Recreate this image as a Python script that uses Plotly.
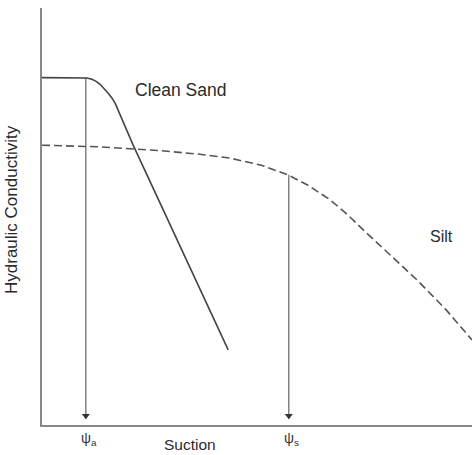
import plotly.graph_objects as go

# Curve data (arbitrary units: suction on x, hydraulic conductivity on y)
sand_x = [0, 0.95, 1.05, 1.16, 1.26, 1.35, 1.44, 1.53, 1.62, 1.70, 2.12, 4.33]
sand_y = [8.33, 8.33, 8.32, 8.29, 8.24, 8.17, 8.08, 7.97, 7.85, 7.72, 6.71, 1.80]
silt_x = [0, 1.35, 2.74, 3.6, 4.37, 5.1, 5.72, 6.2, 6.70, 7.10, 7.47, 8.10, 8.72, 9.40, 10.0]
silt_y = [6.71, 6.67, 6.58, 6.50, 6.40, 6.23, 6.00, 5.74, 5.40, 5.05, 4.68, 4.07, 3.48, 2.76, 2.04]

psi_x = [1.02, 5.74]
psi_top = [8.33, 6.00]
psi_labels = ["ψ<sub>a</sub>", "ψ<sub>s</sub>"]

fig = go.Figure()
fig.add_trace(go.Scatter(x=sand_x, y=sand_y, mode="lines",
                         line=dict(color="#444", width=1.6),
                         showlegend=False, hoverinfo="skip"))
fig.add_trace(go.Scatter(x=silt_x, y=silt_y, mode="lines",
                         line=dict(color="#555", width=1.6, dash="8px,4px"),
                         showlegend=False, hoverinfo="skip"))

# Vertical arrows from each curve down to the suction axis
for x, top in zip(psi_x, psi_top):
    fig.add_trace(go.Scatter(x=[x, x], y=[top, 0.15], mode="lines",
                             line=dict(color="#555", width=1.1),
                             showlegend=False, hoverinfo="skip"))
    fig.add_trace(go.Scatter(x=[x], y=[0.22], mode="markers",
                             marker=dict(symbol="triangle-down", size=7, color="#333"),
                             showlegend=False, hoverinfo="skip"))

FAM = "Liberation Sans, Arial"
W, H = 430.0, 417.0
anns = []
for x, lab in zip(psi_x, psi_labels):
    anns.append(dict(x=(x * 43 + 3) / W, y=-14 / H, xref="paper", yref="paper", text=lab,
                     xanchor="center", yanchor="middle",
                     showarrow=False, font=dict(family=FAM, size=14, color="#333")))
anns += [
    dict(x=3.23, y=8.03, xref="x", yref="y", text="Clean Sand", showarrow=False,
         font=dict(family=FAM, size=17.5, color="#2a2a2a")),
    dict(x=9.28, y=4.52, xref="x", yref="y", text="Silt", showarrow=False,
         font=dict(family=FAM, size=16, color="#2a2a2a")),
    dict(x=(190 - 42) / W, y=-20 / H, xref="paper", yref="paper", text="Suction", showarrow=False,
         xanchor="center", yanchor="middle",
         font=dict(family=FAM, size=15.5, color="#2a2a2a")),
    dict(x=(11 - 42) / W, y=(425 - 210) / H, xref="paper", yref="paper", text="Hydraulic Conductivity",
         xanchor="center", yanchor="middle",
         textangle=-90, showarrow=False, font=dict(family=FAM, size=17, color="#2a2a2a")),
]

fig.update_layout(
    width=472, height=455,
    margin=dict(l=42, r=0, t=8, b=30),
    paper_bgcolor="white", plot_bgcolor="white",
    annotations=anns,
    xaxis=dict(range=[0, 10], showline=True, linecolor="#888", linewidth=2, showgrid=False,
               zeroline=False, showticklabels=False, ticks=""),
    yaxis=dict(range=[0, 10], showline=True, linecolor="#888", linewidth=2, showgrid=False,
               zeroline=False, showticklabels=False, ticks=""),
)

fig.write_html("out.html")
